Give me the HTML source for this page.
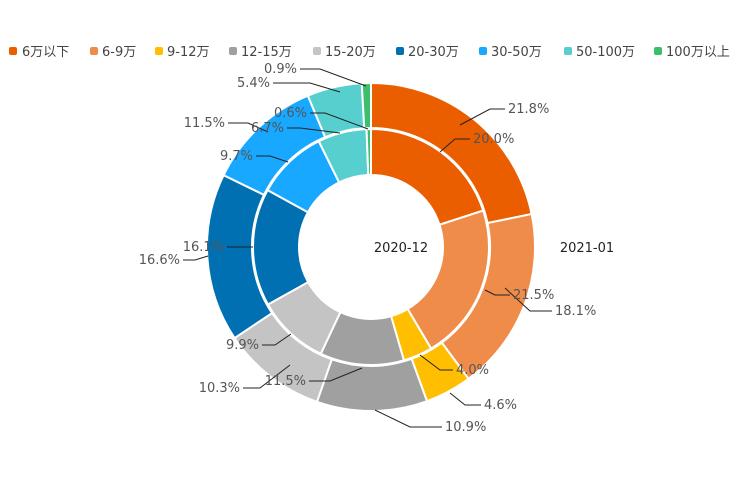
<!DOCTYPE html>
<html><head><meta charset="utf-8"><style>
body{margin:0;background:#fff;}
svg{display:block;font-family:"DejaVu Sans","Noto Sans CJK SC",sans-serif;}
</style></head><body>
<svg id="s" width="744" height="496" viewBox="0 0 744 496" xmlns="http://www.w3.org/2000/svg">
<g font-size="13" fill="#444">
<rect x="9" y="47" width="8" height="8" rx="2" fill="#EB5E00"/><text x="22" y="56">6万以下</text>
<rect x="90" y="47" width="8" height="8" rx="2" fill="#F08C4A"/><text x="102" y="56">6-9万</text>
<rect x="155" y="47" width="8" height="8" rx="2" fill="#FFBF00"/><text x="167" y="56">9-12万</text>
<rect x="229" y="47" width="8" height="8" rx="2" fill="#A0A0A0"/><text x="241" y="56">12-15万</text>
<rect x="313" y="47" width="8" height="8" rx="2" fill="#C4C4C4"/><text x="325" y="56">15-20万</text>
<rect x="396" y="47" width="8" height="8" rx="2" fill="#0070B2"/><text x="408" y="56">20-30万</text>
<rect x="479" y="47" width="8" height="8" rx="2" fill="#19A8FF"/><text x="491" y="56">30-50万</text>
<rect x="564" y="47" width="8" height="8" rx="2" fill="#58CFCF"/><text x="576" y="56">50-100万</text>
<rect x="654" y="47" width="8" height="8" rx="2" fill="#3CBF6A"/><text x="666" y="56">100万以上</text>
</g>
<g id="arcs" stroke="#fff" stroke-width="2"></g>
<g font-size="13" fill="#444">
<text x="401" y="252" text-anchor="middle" fill="#222">2020-12</text>
<text x="587" y="252" text-anchor="middle" fill="#222">2021-01</text>
</g>
<g id="lab" font-size="13" fill="#555"></g>
</svg>
<script>
var cx=371,cy=247;
var cols=["#EB5E00","#F08C4A","#FFBF00","#A0A0A0","#C4C4C4","#0070B2","#19A8FF","#58CFCF","#3CBF6A"];
function ring(vals,r0,r1){
 var tot=vals.reduce((a,b)=>a+b,0),a=0,h="";
 vals.forEach(function(v,i){
  var a0=a/tot*2*Math.PI,a1=(a+v)/tot*2*Math.PI;a+=v;
  function p(r,t){return (cx+r*Math.sin(t)).toFixed(2)+","+(cy-r*Math.cos(t)).toFixed(2);}
  var lg=(a1-a0)>Math.PI?1:0;
  h+='<path fill="'+cols[i]+'" d="M'+p(r1,a0)+'A'+r1+','+r1+' 0 '+lg+' 1 '+p(r1,a1)+'L'+p(r0,a1)+'A'+r0+','+r0+' 0 '+lg+' 0 '+p(r0,a0)+'Z"/>';
 });
 return h;
}
document.getElementById("arcs").innerHTML=ring([21.8,18.1,4.6,10.9,10.3,16.6,11.5,5.4,0.9],119,164)+ring([20.0,21.5,4.0,11.5,9.9,16.1,9.7,6.7,0.6],72,118);
var L=[
["21.8%",508,113,"460,125 490,109 505,109","start"],
["18.1%",555,315,"505,288 530,311 552,311","start"],
["4.6%",484,409,"450,393 465,405 481,405","start"],
["10.9%",445,431,"375,410 410,427 442,427","start"],
["10.3%",240,392,"290,365 260,388 243,388","end"],
["16.6%",180,264,"208,256 195,260 183,260","end"],
["11.5%",225,127,"268,132 248,123 228,123","end"],
["5.4%",270,87,"340,92 310,83 273,83","end"],
["0.9%",297,73,"366,86 320,69 300,69","end"],
["20.0%",473,143,"440,152 455,139 470,139","start"],
["21.5%",513,299,"485,290 495,295 510,295","start"],
["4.0%",456,374,"420,355 440,370 453,370","start"],
["11.5%",306,385,"362,368 330,381 309,381","end"],
["9.9%",259,349,"291,334 275,345 262,345","end"],
["16.1%",224,251,"253,247 227,247","end"],
["9.7%",253,160,"288,162 270,156 256,156","end"],
["6.7%",284,132,"340,133 300,128 287,128","end"],
["0.6%",307,117,"368,129 325,113 310,113","end"]];
var h="";
L.forEach(function(l){h+='<polyline fill="none" stroke="#222" stroke-width="1" points="'+l[3]+'"/><text x="'+l[1]+'" y="'+l[2]+'" text-anchor="'+l[4]+'">'+l[0]+'</text>';});
document.getElementById("lab").innerHTML=h;
</script>
</body></html>
